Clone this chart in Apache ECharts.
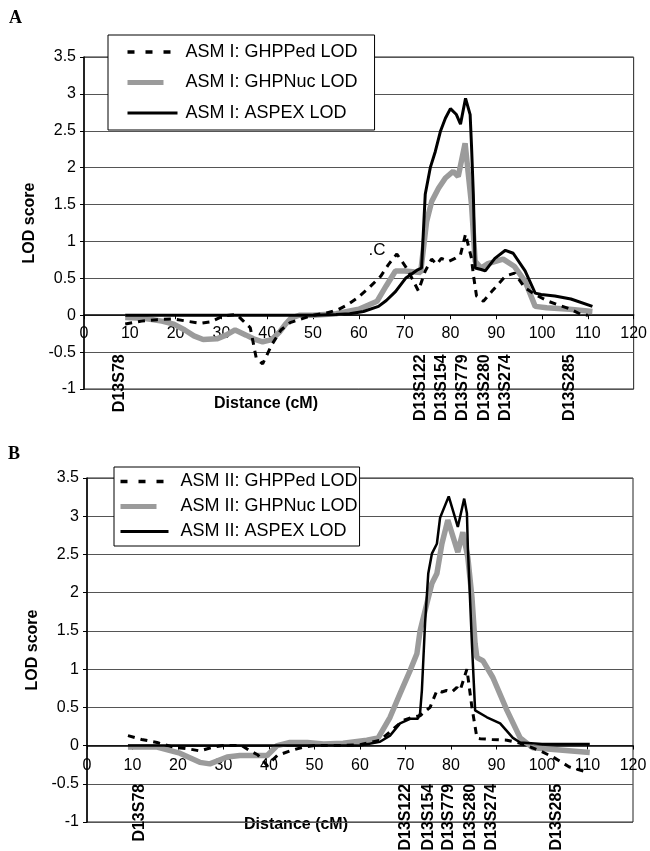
<!DOCTYPE html>
<html>
<head>
<meta charset="utf-8">
<script src="https://cdn.jsdelivr.net/npm/echarts@6/dist/echarts.min.js"></script>
<style>
html,body{margin:0;padding:0;background:#fff;}
#chart{width:650px;height:851px;}
</style>
</head>
<body>
<div id="chart"></div>
<script>
// ---------- DATA ----------
const xTicks = [0, 120, 10];           // min, max, interval (cM)
const yTicks = [-1, 3.5, 0.5];         // min, max, interval (LOD)

// Panel A (ASM I)
const aPedX = [9, 12.6, 16, 19.6, 22.4, 25.4, 27.6, 30.4, 33.3, 34.8, 36.3, 37.6, 39, 41, 43, 45, 48, 50, 53, 55.6, 57.5, 59.6, 62.2, 64.8, 66.5, 68.3, 70.2, 71.6, 73, 74.5, 75.9, 77, 78, 79.6, 81, 82.2, 83.3, 84.6, 85, 85.7, 87.2, 89, 92, 94, 96.3, 98.5, 101.3, 106.3, 108.5, 110];
const aPedY = [-0.12, -0.08, -0.06, -0.05, -0.08, -0.11, -0.09, -0.01, 0.01, -0.08, -0.17, -0.58, -0.66, -0.4, -0.2, -0.1, -0.04, 0, 0.03, 0.08, 0.14, 0.23, 0.37, 0.53, 0.69, 0.83, 0.66, 0.5, 0.33, 0.6, 0.76, 0.69, 0.77, 0.73, 0.77, 0.82, 1.1, 0.77, 0.55, 0.26, 0.19, 0.32, 0.53, 0.57, 0.37, 0.28, 0.19, 0.08, 0.01, 0];
const aNucX = [9, 13, 17, 19.6, 22, 24, 26, 29, 31, 33, 35.4, 37, 39, 41, 42.8, 44, 45.2, 47, 50, 55, 60, 64, 66, 68, 70, 73.5, 74.8, 75.9, 77.4, 78.9, 80.6, 81.7, 83.2, 84.6, 85.4, 86.7, 88.2, 91.5, 94, 96.3, 98.5, 101, 106, 111];
const aNucY = [-0.03, -0.04, -0.08, -0.12, -0.2, -0.28, -0.33, -0.32, -0.27, -0.2, -0.27, -0.32, -0.36, -0.33, -0.22, -0.12, -0.04, 0, 0, 0.02, 0.08, 0.19, 0.4, 0.6, 0.6, 0.58, 1.27, 1.54, 1.72, 1.86, 1.95, 1.88, 2.33, 1.5, 0.73, 0.64, 0.7, 0.76, 0.66, 0.46, 0.12, 0.1, 0.08, 0.05];
const aAspX = [9, 20, 30, 40, 50, 55, 58, 61, 64.3, 66, 68, 70.2, 72.7, 73.7, 74.5, 75.6, 76.7, 77.8, 78.9, 80, 81.3, 82.2, 83.3, 84.3, 84.6, 85, 85.4, 86.7, 87.6, 89.7, 92, 93.7, 96.3, 98.5, 99.8, 102.8, 106.3, 111];
const aAspY = [0, 0, 0, 0, 0, 0.01, 0.02, 0.05, 0.12, 0.2, 0.32, 0.5, 0.61, 0.64, 1.64, 2.0, 2.22, 2.49, 2.67, 2.8, 2.72, 2.59, 2.94, 2.72, 2.3, 1.64, 0.64, 0.62, 0.6, 0.77, 0.88, 0.84, 0.6, 0.3, 0.28, 0.26, 0.22, 0.12];
const aMarkers = ['D13S78', 'D13S122', 'D13S154', 'D13S779', 'D13S280', 'D13S274', 'D13S285'];
const aMarkerPos = [7.8, 73.5, 78, 82.6, 87.4, 92, 106];

// Panel B (ASM II)
const bPedX = [9, 12, 15.4, 19, 22, 24.8, 27.7, 30, 34, 35.8, 37.5, 38.7, 39.6, 41.8, 44.6, 47.5, 50, 55, 60, 64.4, 67, 69.5, 71.5, 73.2, 75.4, 76.9, 78, 79, 80.2, 81.3, 82, 83.5, 84.6, 85.7, 86.4, 89, 92.3, 95.2, 97.5, 99.6, 102.4, 106, 110];
const bPedY = [0.13, 0.08, 0.04, -0.02, -0.04, -0.07, -0.02, 0, 0, -0.07, -0.12, -0.2, -0.26, -0.13, -0.07, -0.02, 0, 0, 0.01, 0.07, 0.2, 0.33, 0.37, 0.39, 0.5, 0.72, 0.7, 0.72, 0.7, 0.76, 0.72, 1.0, 0.5, 0.1, 0.09, 0.08, 0.07, 0.03, -0.02, -0.07, -0.15, -0.28, -0.35];
const bNucX = [9, 15.4, 20.4, 24.8, 27, 30.8, 33.6, 37.4, 39.6, 41.8, 44.6, 48.4, 52, 56.3, 61.5, 64, 66.6, 68.8, 71, 72.5, 73.2, 74.7, 75.8, 76.9, 78, 79.3, 81.5, 82.6, 83.7, 84.6, 85.3, 85.7, 87, 89.2, 92.3, 95.2, 98, 110.5];
const bNucY = [-0.02, -0.02, -0.1, -0.22, -0.24, -0.15, -0.13, -0.13, -0.13, 0, 0.04, 0.04, 0.02, 0.03, 0.07, 0.1, 0.37, 0.68, 0.98, 1.2, 1.5, 1.86, 2.12, 2.25, 2.64, 2.95, 2.53, 2.79, 2.46, 1.94, 1.33, 1.15, 1.11, 0.89, 0.46, 0.1, -0.03, -0.09];
const bAspX = [9, 20, 30, 40, 50, 60, 64.4, 66.6, 68.8, 71, 72.7, 73.2, 73.6, 74.3, 75, 75.8, 76.9, 77.6, 79.5, 81.5, 82.9, 83.5, 83.7, 84.6, 85.3, 87.9, 90.8, 93.6, 95.2, 100, 110.5];
const bAspY = [0, 0, 0, 0, 0, 0, 0.05, 0.13, 0.29, 0.35, 0.35, 0.42, 0.72, 1.6, 2.25, 2.51, 2.64, 2.98, 3.26, 2.86, 3.23, 3.04, 2.6, 1.33, 0.46, 0.37, 0.29, 0.1, 0.04, 0.02, 0.02];
const bMarkers = ['D13S78', 'D13S122', 'D13S154', 'D13S779', 'D13S280', 'D13S274', 'D13S285'];
const bMarkerPos = [11.6, 70.1, 75, 79.4, 84.2, 89, 103.3];

const aNames = ['ASM I: GHPPed LOD', 'ASM I: GHPNuc LOD', 'ASM I: ASPEX LOD'];
const bNames = ['ASM II: GHPPed LOD', 'ASM II: GHPNuc LOD', 'ASM II: ASPEX LOD'];
const xName = 'Distance (cM)';
const yName = 'LOD score';

// ---------- BUILD ----------
const zip = (xs, ys) => xs.map((x, i) => [x, ys[i]]);
const FONT = "'Liberation Sans', Arial, sans-serif";
const GRAY = '#9b9b9b';
const grids = [
  { left: 84, top: 57, width: 552, height: 332 },
  { left: 87, top: 478, width: 546, height: 344 }
];

function lineSeries(name, xs, ys, idx, style) {
  return {
    name, type: 'line', xAxisIndex: idx, yAxisIndex: idx,
    data: zip(xs, ys), symbol: 'none', showSymbol: false, smooth: false,
    lineStyle: style, itemStyle: { color: style.color }, z: style.z || 2,
    silent: true
  };
}
function markerSeries(names, pos, idx, anchorY) {
  return {
    type: 'scatter', xAxisIndex: idx, yAxisIndex: idx, silent: true,
    symbolSize: 1, itemStyle: { color: 'rgba(0,0,0,0)' },
    data: names.map((n, i) => ({ name: n, value: [pos[i], anchorY] })),
    label: {
      show: true, position: 'inside', rotate: 90, align: 'right', verticalAlign: 'middle',
      formatter: p => p.name, color: '#000', fontFamily: FONT, fontWeight: 'bold', fontSize: 16,
      textBorderWidth: 0, textBorderColor: 'transparent', opacity: 1
    },
    z: 5
  };
}
function xAxis(idx, margin) {
  // place the axis where LOD = 0 on its grid
  const off = -grids[idx].height * (0 - yTicks[0]) / (yTicks[1] - yTicks[0]);
  return {
    type: 'value', gridIndex: idx, min: xTicks[0], max: xTicks[1], interval: xTicks[2],
    position: 'bottom', offset: off,
    axisLine: { show: true, onZero: false, lineStyle: { color: '#000', width: 1.5 } },
    axisTick: { show: true, length: 4, lineStyle: { color: '#000' } },
    axisLabel: { color: '#000', fontFamily: FONT, fontSize: 16, margin: margin },
    splitLine: { show: false }
  };
}
function yAxis(idx) {
  return {
    type: 'value', gridIndex: idx, min: yTicks[0], max: yTicks[1], interval: yTicks[2],
    name: yName, nameLocation: 'middle', nameRotate: 90, nameGap: 42,
    nameTextStyle: { color: '#000', fontFamily: FONT, fontWeight: 'bold', fontSize: 16 },
    axisLine: { show: true, lineStyle: { color: '#000', width: 1.5 } },
    axisTick: { show: true, length: 4, lineStyle: { color: '#000' } },
    axisLabel: { color: '#000', fontFamily: FONT, fontSize: 16, margin: 8 },
    splitLine: { show: true, lineStyle: { color: '#555', width: 1.2 } }
  };
}
const legendLines = [
  { color: '#000', width: 3.5, type: [7, 11] },
  { color: GRAY, width: 5, type: [36, 16, 3, 20] },
  { color: '#000', width: 3, type: 'solid' }
];
function legend(names, top, left, pad, itemW, lh, gap, txtPad) {
  return {
    data: names.map((n, i) => ({ name: n, lineStyle: legendLines[i], itemStyle: { opacity: 0 } })),
    orient: 'vertical', left: left, top: top, align: 'left',
    backgroundColor: '#fff', borderColor: '#000', borderWidth: 1,
    padding: pad, itemGap: gap, itemWidth: itemW, itemHeight: 14,
    selectedMode: false,
    itemStyle: { opacity: 0 },
    textStyle: { color: '#000', fontFamily: FONT, fontSize: 18, lineHeight: lh, padding: [0, 0, 0, txtPad] }
  };
}

const styles = [
  { color: '#000', width: 3, type: [7, 6] },
  { color: GRAY, width: 5.5, type: 'solid', z: 1 },
  { color: '#000', width: 3, type: 'solid', z: 3 }
];

const option = {
  animation: false,
  backgroundColor: '#fff',
  grid: grids.map(g => Object.assign({ show: true, borderColor: '#222', borderWidth: 1, containLabel: false }, g)),
  xAxis: [xAxis(0, 10), xAxis(1, 12)],
  yAxis: [yAxis(0), yAxis(1)],
  legend: [
    legend(aNames, 35, 108, [7, 17, 7, 17], 50, 20, 10.5, 3),
    legend(bNames, 467, 114, [5, 2, 5, 4], 48, 19, 6, 7)
  ],
  series: [
    lineSeries(aNames[1], aNucX, aNucY, 0, styles[1]),
    lineSeries(aNames[0], aPedX, aPedY, 0, styles[0]),
    lineSeries(aNames[2], aAspX, aAspY, 0, styles[2]),
    lineSeries(bNames[1], bNucX, bNucY, 1, styles[1]),
    lineSeries(bNames[0], bPedX, bPedY, 1, styles[0]),
    lineSeries(bNames[2], bAspX, bAspY, 1, Object.assign({}, styles[2], { width: 2.5 })),
    markerSeries(aMarkers, aMarkerPos, 0, -0.53),
    markerSeries(bMarkers, bMarkerPos, 1, -0.5)
  ],
  graphic: [
    { type: 'text', left: 9, top: 9, style: { text: 'A', font: "bold 18px 'Liberation Serif', serif", fill: '#000' } },
    { type: 'text', left: 8, top: 445, style: { text: 'B', font: "bold 18px 'Liberation Serif', serif", fill: '#000' } },
    { type: 'text', x: 266, y: 404, style: { text: xName, font: "bold 16px 'Liberation Sans', Arial, sans-serif", fill: '#000', align: 'center', verticalAlign: 'middle' } },
    { type: 'text', x: 296, y: 825, style: { text: xName, font: "bold 16px 'Liberation Sans', Arial, sans-serif", fill: '#000', align: 'center', verticalAlign: 'middle' } },
    { type: 'text', x: 377, y: 250, style: { text: '.C', font: "17px 'Liberation Sans', Arial, sans-serif", fill: '#000', align: 'center', verticalAlign: 'middle' } }
  ]
};

const chart = echarts.init(document.getElementById('chart'), null, { renderer: 'canvas' });
chart.setOption(option);
</script>
</body>
</html>
